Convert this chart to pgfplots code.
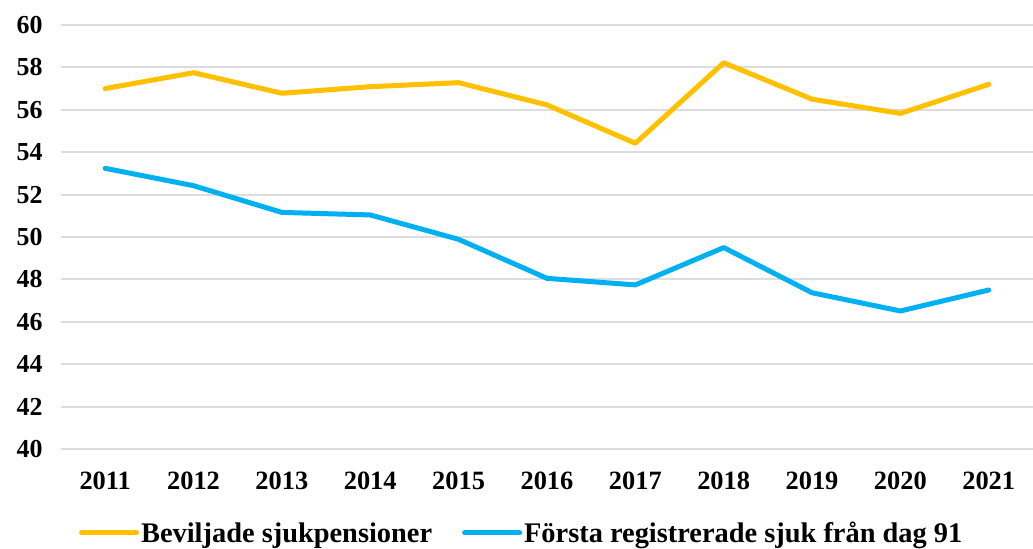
\documentclass[border=0pt]{standalone}
\usepackage{fontspec}
\setmainfont{Liberation Serif}
\usepackage{pgfplots}
\pgfplotsset{compat=1.18}
\definecolor{cy}{HTML}{FFC000}
\definecolor{cb}{HTML}{00B0F0}
\definecolor{gridc}{HTML}{DDDDDD}
\begin{document}
\begin{tikzpicture}
\useasboundingbox (-61bp,-100bp) rectangle (972bp,449bp);
\begin{axis}[at={(0,0)}, anchor=south west, scale only axis,
  width=972bp, height=424bp,
  xmin=2010.5, xmax=2021.5, ymin=40, ymax=60,
  xtick={2011,...,2021}, ytick={40,42,...,60},
  /pgf/number format/assume math mode=true,
  /pgf/number format/1000 sep={},
  axis line style={draw=none}, tick style={draw=none},
  ymajorgrids, major grid style={gridc, line width=2bp},
  xticklabel style={font=\fontsize{26.5}{30}\selectfont\bfseries, yshift=-19bp},
  yticklabel style={font=\fontsize{26}{30}\selectfont\bfseries, xshift=-15bp},
  legend style={at={(0.474,-0.198)}, anchor=center, draw=none, fill=none,
    font=\fontsize{28.5}{32}\selectfont\bfseries, legend columns=2,
    /tikz/every even column/.append style={column sep=28bp}},
  legend image code/.code={\draw[#1, line width=5bp] (0bp,0bp) -- (55bp,0bp);},
  clip=false,
]
\addplot[cy, line width=5bp, line join=round, line cap=round] coordinates {
(2011,57.00) (2012,57.75) (2013,56.78) (2014,57.09) (2015,57.28) (2016,56.23)
(2017,54.42) (2018,58.22) (2019,56.50) (2020,55.83) (2021,57.20)};
\addlegendentry{Beviljade sjukpensioner}
\addplot[cb, line width=5bp, line join=round, line cap=round] coordinates {
(2011,53.24) (2012,52.42) (2013,51.16) (2014,51.04) (2015,49.89) (2016,48.05)
(2017,47.74) (2018,49.50) (2019,47.37) (2020,46.51) (2021,47.50)};
\addlegendentry{Första registrerade sjuk från dag 91}
\end{axis}
\end{tikzpicture}
\end{document}
